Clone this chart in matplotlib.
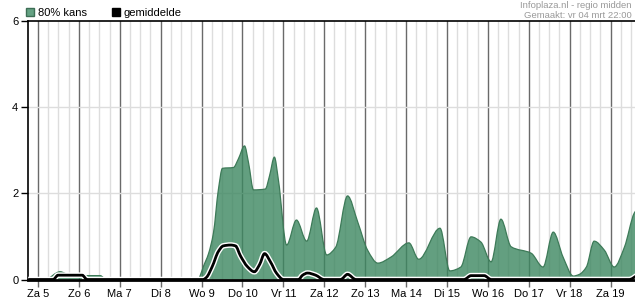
import numpy as np
import matplotlib
matplotlib.use("Agg")
import matplotlib.pyplot as plt
from matplotlib.path import Path
from matplotlib.patches import PathPatch, Patch
import matplotlib.patheffects as pe

plt.rcParams['font.family'] = ['Liberation Sans', 'DejaVu Sans']

# ---- data (x = day of month, fractional) ----
day_ticks = [5, 6, 7, 8, 9, 10, 11, 12, 13, 14, 15, 16, 17, 18, 19]
day_labels = ["Za 5", "Zo 6", "Ma 7", "Di 8", "Wo 9", "Do 10", "Vr 11", "Za 12",
              "Zo 13", "Ma 14", "Di 15", "Wo 16", "Do 17", "Vr 18", "Za 19"]

kans_t = [4.76, 5.17, 5.54, 5.78, 6.03, 6.52, 6.67, 8.92, 8.97, 9.04, 9.17, 9.29, 9.41,
          9.51, 9.78, 9.90, 10.05, 10.15, 10.27, 10.56, 10.66, 10.78, 10.88, 11.08,
          11.32, 11.57, 11.81, 12.06, 12.28, 12.57, 12.82, 13.06, 13.31, 13.63,
          14.07, 14.31, 14.83, 15.07, 15.34, 15.59, 15.83, 16.08, 16.32, 16.57,
          17.06, 17.35, 17.60, 17.84, 18.09, 18.24, 18.41, 18.60, 18.85, 19.09,
          19.34, 19.58, 19.66]
kans_v = [0.0, 0.0, 0.18, 0.10, 0.09, 0.09, 0.0, 0.0, 0.10, 0.29, 0.60, 1.08, 2.08,
          2.58, 2.60, 2.80, 3.10, 2.70, 2.08, 2.10, 2.40, 2.84, 2.30, 0.80,
          1.38, 0.89, 1.66, 0.57, 0.75, 1.94, 1.33, 0.68, 0.38, 0.52,
          0.85, 0.47, 1.19, 0.20, 0.29, 0.99, 0.87, 0.41, 1.40, 0.76,
          0.61, 0.29, 1.10, 0.52, 0.08, 0.12, 0.29, 0.89, 0.68, 0.29,
          0.75, 1.54, 1.65]

gem_t = [4.76, 5.37, 5.49, 6.08, 6.20, 9.04, 9.12, 9.26, 9.41, 9.53, 9.71, 9.83,
         9.95, 10.12, 10.29, 10.42, 10.54, 10.69, 10.83, 11.00, 11.37, 11.47,
         11.59, 11.79, 11.99, 12.40, 12.57, 12.77, 15.42, 15.59, 15.91, 16.08,
         19.46, 19.66]
gem_v = [0.0, 0.0, 0.10, 0.10, 0.0, 0.0, 0.05, 0.30, 0.65, 0.78, 0.80, 0.78,
         0.55, 0.30, 0.18, 0.35, 0.60, 0.40, 0.15, 0.0, 0.0, 0.10,
         0.15, 0.10, 0.0, 0.0, 0.12, 0.0, 0.0, 0.09, 0.09, 0.0,
         0.0, 0.10]

y_ticks = [0, 2, 4, 6]


def smooth_path(x, y, close_to_zero=False):
    x = np.asarray(x, float)
    y = np.asarray(y, float)
    h = np.diff(x)
    d = np.diff(y) / h
    m = np.zeros_like(y)
    m[0], m[-1] = d[0], d[-1]
    for k in range(1, len(y) - 1):
        if d[k - 1] * d[k] <= 0:
            m[k] = 0.0
        else:
            w1 = 2 * h[k] + h[k - 1]
            w2 = h[k] + 2 * h[k - 1]
            m[k] = (w1 + w2) / (w1 / d[k - 1] + w2 / d[k])
    verts = [(x[0], y[0])]
    codes = [Path.MOVETO]
    for k in range(len(x) - 1):
        verts += [(x[k] + h[k] / 3, y[k] + m[k] * h[k] / 3),
                  (x[k + 1] - h[k] / 3, y[k + 1] - m[k + 1] * h[k] / 3),
                  (x[k + 1], y[k + 1])]
        codes += [Path.CURVE4] * 3
    if close_to_zero:
        verts += [(x[-1], 0), (x[0], 0), (x[0], y[0])]
        codes += [Path.LINETO, Path.LINETO, Path.CLOSEPOLY]
    return Path(verts, codes)


fig = plt.figure(figsize=(6.35, 3.0), dpi=100)
ax = fig.add_axes([28 / 635, 20.5 / 300, 1 - 28 / 635 + 0.002, 258.5 / 300])

ax.set_xlim(4.755, 19.63)
ax.set_ylim(0, 6)

# grid
for d in np.arange(5.0, 19.7, 0.25):
    if abs(d - round(d)) > 1e-6:
        ax.axvline(d, color='#dddddd', lw=1, zorder=1)
for d in day_ticks:
    ax.axvline(d, color='#6a6a6a', lw=1, zorder=1)
for yv in [2, 4]:
    ax.axhline(yv, color='#dddddd', lw=1, zorder=1)

# 80% kans area
ax.add_patch(PathPatch(smooth_path(kans_t, kans_v, close_to_zero=True),
                       facecolor='#3c8760', alpha=0.8, edgecolor='none', zorder=2))
ax.add_patch(PathPatch(smooth_path(kans_t, kans_v), facecolor='none',
                       edgecolor='#3d7a58', lw=0.9, zorder=3))

# gemiddelde line
ax.add_patch(PathPatch(smooth_path(gem_t, gem_v), facecolor='none', edgecolor='black',
                       lw=2.0, zorder=4,
                       path_effects=[pe.Stroke(linewidth=4, foreground='white'), pe.Normal()]))

ax.set_xticks(day_ticks)
ax.set_xticklabels(day_labels)
ax.set_yticks(y_ticks)
ax.tick_params(axis='x', length=5, width=1, color='#6a6a6a', pad=2, labelsize=8)
ax.tick_params(axis='y', length=5, width=1, color='black', pad=2, labelsize=8)

for s in ['left', 'top']:
    ax.spines[s].set_color('black')
    ax.spines[s].set_linewidth(1.2)
ax.spines['bottom'].set_color('black')
ax.spines['bottom'].set_linewidth(2)
ax.spines['bottom'].set_zorder(6)
ax.spines['right'].set_visible(False)

handles = [Patch(facecolor='#64a283', edgecolor='#3d6e55', label='80% kans'),
           Patch(facecolor='black', edgecolor='black', label='gemiddelde')]
fig.legend(handles=handles, loc='upper left', bbox_to_anchor=(26 / 635, 1.0 - 8 / 300),
           ncol=2, frameon=False, fontsize=8, handlelength=0.75, handleheight=0.75,
           handletextpad=0.35, columnspacing=2.2, borderaxespad=0, borderpad=0)

fig.text(632 / 635, 1 - 0.5 / 300, "Infoplaza.nl - regio midden", ha='right', va='top',
         fontsize=6.8, color='#999999')
fig.text(632 / 635, 1 - 10.5 / 300, "Gemaakt: vr 04 mrt 22:00", ha='right', va='top',
         fontsize=6.8, color='#999999')

fig.savefig('out.png', dpi=100)
